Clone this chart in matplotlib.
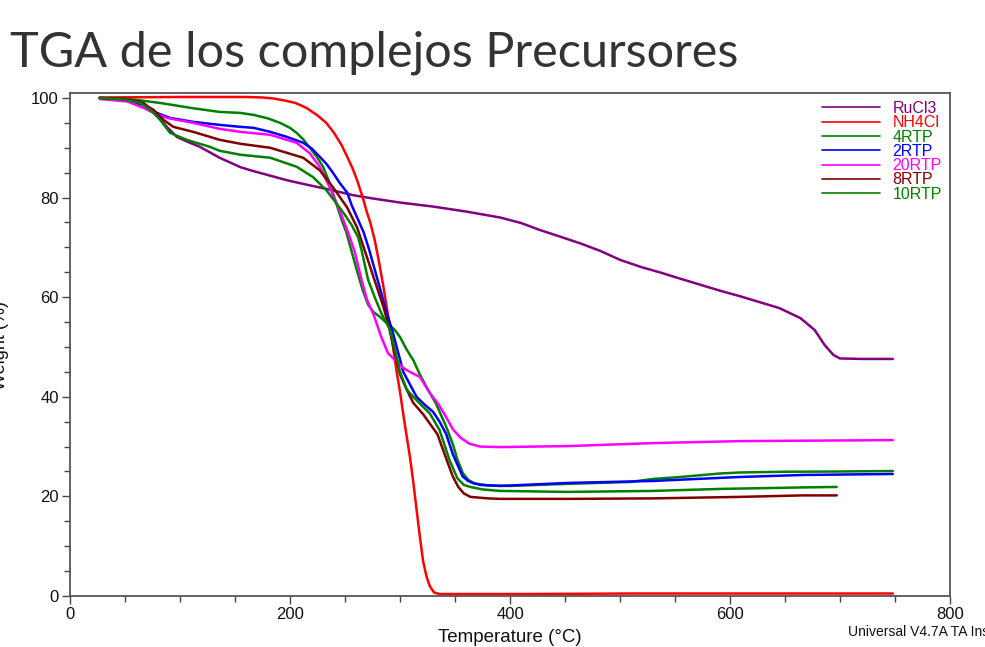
import matplotlib
matplotlib.use("Agg")
import matplotlib.pyplot as plt
from matplotlib.ticker import MultipleLocator

# ---------------- data ----------------
ru_t = [27, 50, 67, 79, 88, 97, 108, 118, 136, 155, 167, 182, 197, 215, 236, 257, 273, 300, 330, 360,
        391, 410, 427, 445, 464, 482, 500, 520, 536, 555, 573, 591, 609, 627, 645, 664, 677, 686, 694, 700, 720, 748]
ru_w = [100, 99.7, 99.0, 96.6, 94.2, 92.2, 91.1, 90.2, 88.0, 86.1, 85.3, 84.4, 83.5, 82.6, 81.6, 80.5, 79.9, 79.0, 78.2, 77.2,
        76.0, 74.9, 73.5, 72.2, 70.8, 69.3, 67.5, 66.0, 65.0, 63.7, 62.5, 61.3, 60.2, 59.0, 57.8, 55.8, 53.4, 50.4, 48.4, 47.7, 47.6, 47.6]

nh_t = [27, 100, 160, 175, 185, 195, 205, 215, 225, 233, 240, 247, 252, 257, 261, 266, 270, 273, 277, 281, 285, 289, 293, 297,
        300, 304, 309, 312, 315, 318, 321, 324, 327, 331, 336, 420, 510, 600, 680, 748]
nh_w = [100.1, 100.2, 100.2, 100.1, 99.9, 99.5, 99.0, 98.0, 96.5, 95.0, 93.0, 90.5, 88.2, 85.8, 83.5, 80.1, 77.0, 75.0, 71.5, 67.0, 62.0, 56.5, 51.0, 45.0,
        41.0, 35.0, 28.0, 23.0, 17.5, 12.0, 7.0, 4.0, 2.0, 0.7, 0.4, 0.4, 0.5, 0.5, 0.5, 0.5]

r4_t = [27, 45, 61, 82, 110, 136, 155, 167, 180, 191, 200, 206, 212, 218, 224, 230, 235, 239, 243, 247, 251, 255,
        260, 266, 271, 276, 282, 288, 295, 300, 306, 312, 318, 324, 333, 342, 348, 352, 357, 362, 368, 380, 400,
        450, 509, 530, 555, 591, 609, 650, 700, 748]
r4_w = [100, 99.9, 99.6, 99.0, 98.0, 97.2, 97.0, 96.6, 95.9, 95.0, 94.0, 93.0, 91.7, 90.0, 88.3, 86.2, 83.5, 80.9, 78.2, 75.5, 73.2, 70.0,
        66.0, 61.5, 58.5, 57.0, 56.0, 54.8, 53.5, 52.0, 49.5, 47.4, 44.5, 42.0, 38.5, 34.0, 30.5, 27.5, 24.7, 23.3, 22.6, 22.2, 22.1,
        22.5, 22.9, 23.5, 23.9, 24.6, 24.8, 24.95, 25.0, 25.1]

r2_t = [27, 50, 67, 79, 91, 112, 136, 155, 167, 182, 197, 212, 220, 227, 233, 239, 245, 252, 256, 261, 267, 272,
        279, 284, 288, 293, 297, 303, 309, 315, 322, 330, 336, 342, 348, 352, 357, 362, 366, 373, 391, 452, 530,
        609, 666, 748]
r2_w = [100, 99.6, 98.6, 97.0, 96.0, 95.2, 94.6, 94.2, 94.0, 93.2, 92.2, 91.0, 89.8, 88.2, 86.8, 85.0, 83.0, 81.0, 78.5, 76.0, 73.0, 69.5,
        64.0, 60.0, 56.8, 53.3, 50.0, 45.0, 42.5, 40.0, 38.5, 37.0, 35.0, 32.5, 28.5, 26.5, 24.0, 23.1, 22.7, 22.3, 22.1, 22.7, 23.1,
        23.9, 24.3, 24.5]

r20_t = [27, 52, 67, 76, 88, 112, 136, 155, 182, 206, 218, 227, 236, 245, 253, 259, 265, 270, 276, 283, 289, 297,
         303, 309, 318, 327, 335, 341, 348, 355, 363, 373, 391, 452, 530, 609, 748]
r20_w = [99.8, 99.3, 98.0, 97.0, 96.0, 95.0, 93.8, 93.2, 92.6, 91.0, 88.9, 86.2, 82.1, 77.5, 72.9, 69.0, 63.5, 59.5, 56.5, 52.0, 48.8, 47.0,
         45.8, 45.0, 44.0, 40.8, 38.5, 36.3, 33.5, 31.8, 30.6, 30.0, 29.9, 30.1, 30.7, 31.1, 31.3]

r8_t = [27, 50, 64, 76, 85, 94, 112, 136, 155, 182, 212, 227, 239, 252, 261, 267, 273, 279, 285, 290, 294, 300,
        306, 312, 321, 334, 343, 348, 353, 358, 364, 380, 391, 452, 530, 609, 666, 697]
r8_w = [100, 99.8, 99.2, 97.6, 95.6, 94.2, 93.2, 91.6, 90.8, 90.0, 88.0, 85.5, 82.1, 78.0, 74.0, 70.0, 66.0, 62.0, 58.0, 54.0, 50.0, 44.5,
        41.5, 38.8, 36.5, 32.5, 27.0, 24.0, 21.9, 20.6, 19.9, 19.6, 19.5, 19.5, 19.6, 19.9, 20.2, 20.2]

r10_t = [27, 50, 64, 73, 82, 91, 106, 127, 136, 155, 182, 206, 221, 233, 242, 250, 256, 262, 265, 271, 277, 283,
         291, 296, 300, 306, 312, 320, 327, 336, 345, 352, 358, 364, 375, 391, 452, 530, 591, 666, 697]
r10_w = [100, 99.7, 99.0, 97.6, 95.6, 93.0, 91.6, 90.2, 89.4, 88.6, 88.0, 86.2, 84.1, 81.5, 78.9, 76.5, 74.5, 72.0, 69.5, 63.5, 60.0, 56.8,
         53.4, 49.0, 45.0, 41.5, 40.0, 38.2, 36.7, 33.3, 27.3, 23.7, 22.3, 21.9, 21.4, 21.1, 20.9, 21.1, 21.5, 21.8, 21.9]

series_names = ["RuCl3", "NH4Cl", "4RTP", "2RTP", "20RTP", "8RTP", "10RTP"]
series_colors = ["#800080", "#ff0000", "#008000", "#0000ff", "#ff00ff", "#800000", "#008000"]
series_t = [ru_t, nh_t, r4_t, r2_t, r20_t, r8_t, r10_t]
series_w = [ru_w, nh_w, r4_w, r2_w, r20_w, r8_w, r10_w]

x_ticks = [0, 200, 400, 600, 800]
y_ticks = [0, 20, 40, 60, 80, 100]

# ---------------- figure ----------------
W, H = 985, 647
fig = plt.figure(figsize=(W / 100, H / 100), dpi=100)
fig.patch.set_facecolor("white")

ax_l, ax_r, ax_top, ax_bot = 70, 950, 93, 596
ax = fig.add_axes([ax_l / W, 1 - ax_bot / H, (ax_r - ax_l) / W, (ax_bot - ax_top) / H])

for name, col, t, w in zip(series_names, series_colors, series_t, series_w):
    ax.plot(t, w, color=col, lw=1.8, solid_capstyle="round", solid_joinstyle="round", label=name)

ax.set_xlim(0, 800)
ax.set_ylim(0, 101)
ax.set_xticks(x_ticks)
ax.set_yticks(y_ticks)
ax.xaxis.set_minor_locator(MultipleLocator(50))
ax.yaxis.set_minor_locator(MultipleLocator(5))

fam = ["Liberation Sans", "DejaVu Sans"]
tick_font = dict(family=fam, size=12)
ax.set_xticklabels([str(v) for v in x_ticks], fontdict=tick_font)
ax.set_yticklabels([str(v) for v in y_ticks], fontdict=tick_font)
ax.tick_params(axis="both", which="major", direction="out", length=6, width=1, color="#444444", pad=2,
               labelcolor="#111111")
ax.tick_params(axis="both", which="minor", direction="out", length=4, width=1, color="#444444")

for s in ax.spines.values():
    s.set_color("#555555")
    s.set_linewidth(1.3)

ax.set_xlabel("Temperature (°C)", fontsize=13.5, family=fam, color="#111111", labelpad=5)

fig.text(1 / W, 1 - 345 / H, "Weight (%)", rotation=90, ha="center", va="center",
         fontsize=13, family=fam, color="#111111")

leg = ax.legend(loc="upper left", bbox_to_anchor=((822 - ax_l) / (ax_r - ax_l), (ax_bot - 101) / (ax_bot - ax_top)),
                frameon=False, handlelength=3.6, handletextpad=0.8, labelspacing=-0.045,
                borderpad=0, borderaxespad=0, labelcolor="linecolor",
                prop=dict(family=fam, size=11.5))
for lh in leg.get_lines():
    lh.set_linewidth(1.2)

fig.text(10 / W, 1 - 53 / H, "TGA de los complejos Precursores", ha="left", va="center",
         fontsize=35, family=["Lato", "DejaVu Sans"], color="#333333")

fig.text(848 / W, 1 - 632 / H, "Universal V4.7A TA Instruments", ha="left", va="center",
         fontsize=10, family=fam, color="#111111")

fig.savefig("out.png", dpi=100, facecolor="white")
